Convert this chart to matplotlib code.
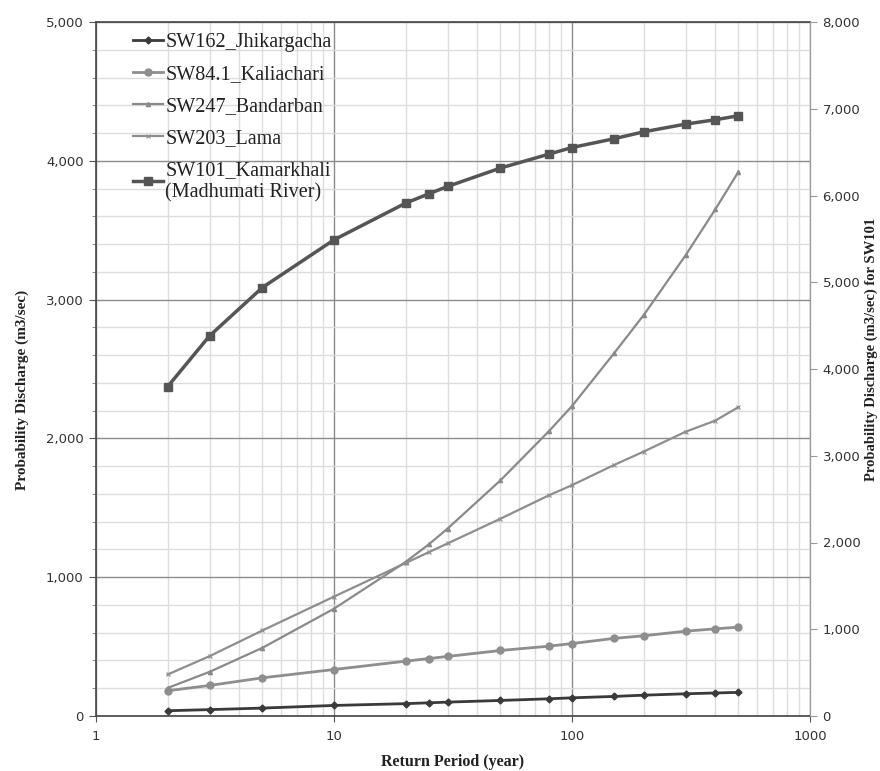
import matplotlib
matplotlib.use("Agg")
import matplotlib.pyplot as plt
from matplotlib.ticker import FixedLocator, FuncFormatter, NullFormatter, LogLocator, MultipleLocator

# Return periods (years)
return_period = [2, 3, 5, 10, 20, 25, 30, 50, 80, 100, 150, 200, 300, 400, 500]

# Probability discharge (m3/sec)
jhikargacha = [38, 46, 57, 76, 89, 95, 100, 112, 124, 131, 141, 150, 160, 166, 170]
kaliachari = [182, 220, 275, 335, 395, 414, 429, 472, 503, 522, 559, 578, 611, 628, 640]
bandarban = [202, 318, 491, 773, 1110, 1236, 1350, 1697, 2052, 2233, 2612, 2888, 3319, 3650, 3920]
lama = [299, 431, 616, 860, 1102, 1180, 1243, 1421, 1590, 1663, 1808, 1905, 2048, 2128, 2225]
kamarkhali = [3797, 4382, 4939, 5489, 5912, 6019, 6104, 6316, 6477, 6553, 6654, 6734, 6823, 6873, 6919]

labels = ["SW162_Jhikargacha", "SW84.1_Kaliachari", "SW247_Bandarban",
          "SW203_Lama", "SW101_Kamarkhali\n(Madhumati River)"]

W, H = 880, 771
fig = plt.figure(figsize=(W / 100, H / 100), dpi=100)
x0, x1, y0, y1 = 96, 810, 22, 716
ax = fig.add_axes([x0 / W, 1 - y1 / H, (x1 - x0) / W, (y1 - y0) / H])

ax.set_xscale("log")
ax.set_xlim(1, 1000)
ax.set_ylim(0, 5000)

# grid
ax.xaxis.set_major_locator(FixedLocator([1, 10, 100, 1000]))
ax.xaxis.set_minor_locator(LogLocator(base=10, subs=range(2, 10)))
ax.xaxis.set_minor_formatter(NullFormatter())
ax.xaxis.set_major_formatter(FuncFormatter(lambda v, p: f"{int(round(v))}"))
ax.yaxis.set_major_locator(MultipleLocator(1000))
ax.yaxis.set_minor_locator(MultipleLocator(200))
ax.yaxis.set_major_formatter(FuncFormatter(lambda v, p: f"{int(v):,}"))
ax.grid(which="major", color="#8c8c8c", lw=1.0)
ax.grid(which="minor", color="#dcdcdc", lw=1.0)
ax.set_axisbelow(True)

ax.tick_params(axis="y", which="major", direction="out", length=5, color="#555555",
               labelsize=9.5, labelcolor="#333333", pad=4)
ax.tick_params(axis="y", which="minor", direction="out", length=3, color="#777777")
ax.tick_params(axis="x", which="major", direction="out", length=4, color="#555555",
               labelsize=9.5, labelcolor="#333333", pad=6)
ax.tick_params(axis="x", which="minor", length=0)

for side in ["left", "bottom", "top"]:
    ax.spines[side].set_color("#444444")
    ax.spines[side].set_linewidth(1.2)
ax.spines["right"].set_color("#9a9a9a")

ax.plot(return_period, jhikargacha, color="#3a3a3a", lw=2.0, marker="D", ms=3.5,
        label=labels[0], zorder=3)
ax.plot(return_period, kaliachari, color="#8e8e8e", lw=2.0, marker="o", ms=5,
        label=labels[1], zorder=3)
ax.plot(return_period, bandarban, color="#8a8a8a", lw=1.6, marker="^", ms=3,
        label=labels[2], zorder=3)
ax.plot(return_period, lama, color="#8e8e8e", lw=1.6, marker="x", ms=3, mew=0.8,
        label=labels[3], zorder=3)

ax2 = ax.twinx()
ax2.set_ylim(0, 8000)
ax2.yaxis.set_major_locator(MultipleLocator(1000))
ax2.yaxis.set_major_formatter(FuncFormatter(lambda v, p: f"{int(v):,}"))
ax2.tick_params(axis="y", which="major", direction="out", length=5, color="#999999",
                labelsize=9.5, labelcolor="#333333", pad=4)
for side in ["left", "bottom", "top"]:
    ax2.spines[side].set_visible(False)
ax2.spines["right"].set_color("#9a9a9a")
ax2.plot(return_period, kamarkhali, color="#555555", lw=2.5, marker="s", ms=5.5,
         label=labels[4], zorder=3)

serif_bold = dict(family="Liberation Serif", weight="bold")
ax.set_xlabel("Return Period (year)", fontsize=11.5, color="#222222", labelpad=8, **serif_bold)
fig.text(22 / W, 1 - 390 / H, "Probability Discharge (m3/sec)", rotation=90,
         ha="center", va="center", fontsize=11, color="#222222", **serif_bold)
fig.text(871 / W, 1 - 349 / H, "Probability Discharge (m3/sec) for SW101", rotation=90,
         ha="center", va="center", fontsize=10.5, color="#222222", **serif_bold)

h1, l1 = ax.get_legend_handles_labels()
h2, l2 = ax2.get_legend_handles_labels()
leg = ax2.legend(h1 + h2, l1 + l2, loc="upper left",
                 bbox_to_anchor=(133 / W, 1 - 33 / H), bbox_transform=fig.transFigure,
                 frameon=False, prop=dict(family="Liberation Serif", size=14.5),
                 handlelength=1.5, handletextpad=0.1, labelspacing=0.64,
                 borderaxespad=0, borderpad=0)
for t in leg.get_texts():
    t.set_color("#222222")

fig.savefig("out.png", dpi=100)
